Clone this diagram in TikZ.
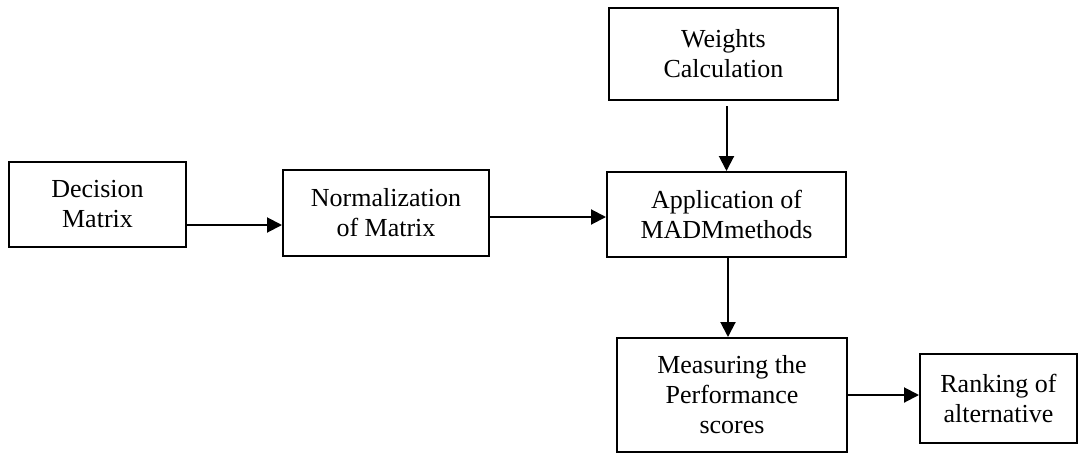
\documentclass[tikz,border=0pt]{standalone}
\usepackage{fontspec}
\setmainfont{Liberation Serif}
\usetikzlibrary{arrows.meta}
\begin{document}
\begin{tikzpicture}[x=1pt,y=-1pt,
  box/.style={draw, line width=2pt, inner sep=0pt, align=center, font=\fontsize{26}{30}\selectfont},
  arr/.style={line width=2pt, -{Triangle[length=15pt,width=15pt]}}]
\useasboundingbox (0,0) rectangle (1079,453);
\node[box, minimum width=177pt, minimum height=85pt] (dec) at (97.5,204.5) {Decision\\Matrix};
\node[box, minimum width=206pt, minimum height=86pt] (norm) at (386,213) {Normalization\\of Matrix};
\node[box, minimum width=229pt, minimum height=92pt] (wts) at (723.5,54) {Weights\\Calculation};
\node[box, minimum width=239pt, minimum height=85pt] (app) at (726.5,214.5) {Application of\\MADMmethods};
\node[box, minimum width=230pt, minimum height=114pt] (meas) at (732,395) {Measuring the\\Performance\\scores};
\node[box, minimum width=157pt, minimum height=89pt] (rank) at (998.5,398.5) {Ranking of\\alternative};
\draw[arr] ([yshift=-20.5pt]dec.east) -- ([yshift=-20.5pt]dec.east -| norm.west);
\draw[arr] ([yshift=-4pt]norm.east) -- ([yshift=-4pt]norm.east -| app.west);
\draw[arr] ([yshift=-5pt]wts.south -| app.north) -- (app.north);
\draw[arr] ([xshift=1.5pt]app.south) -- ([xshift=1.5pt]app.south |- meas.north);
\draw[arr] (meas.east) -- (meas.east -| rank.west);
\end{tikzpicture}
\end{document}
